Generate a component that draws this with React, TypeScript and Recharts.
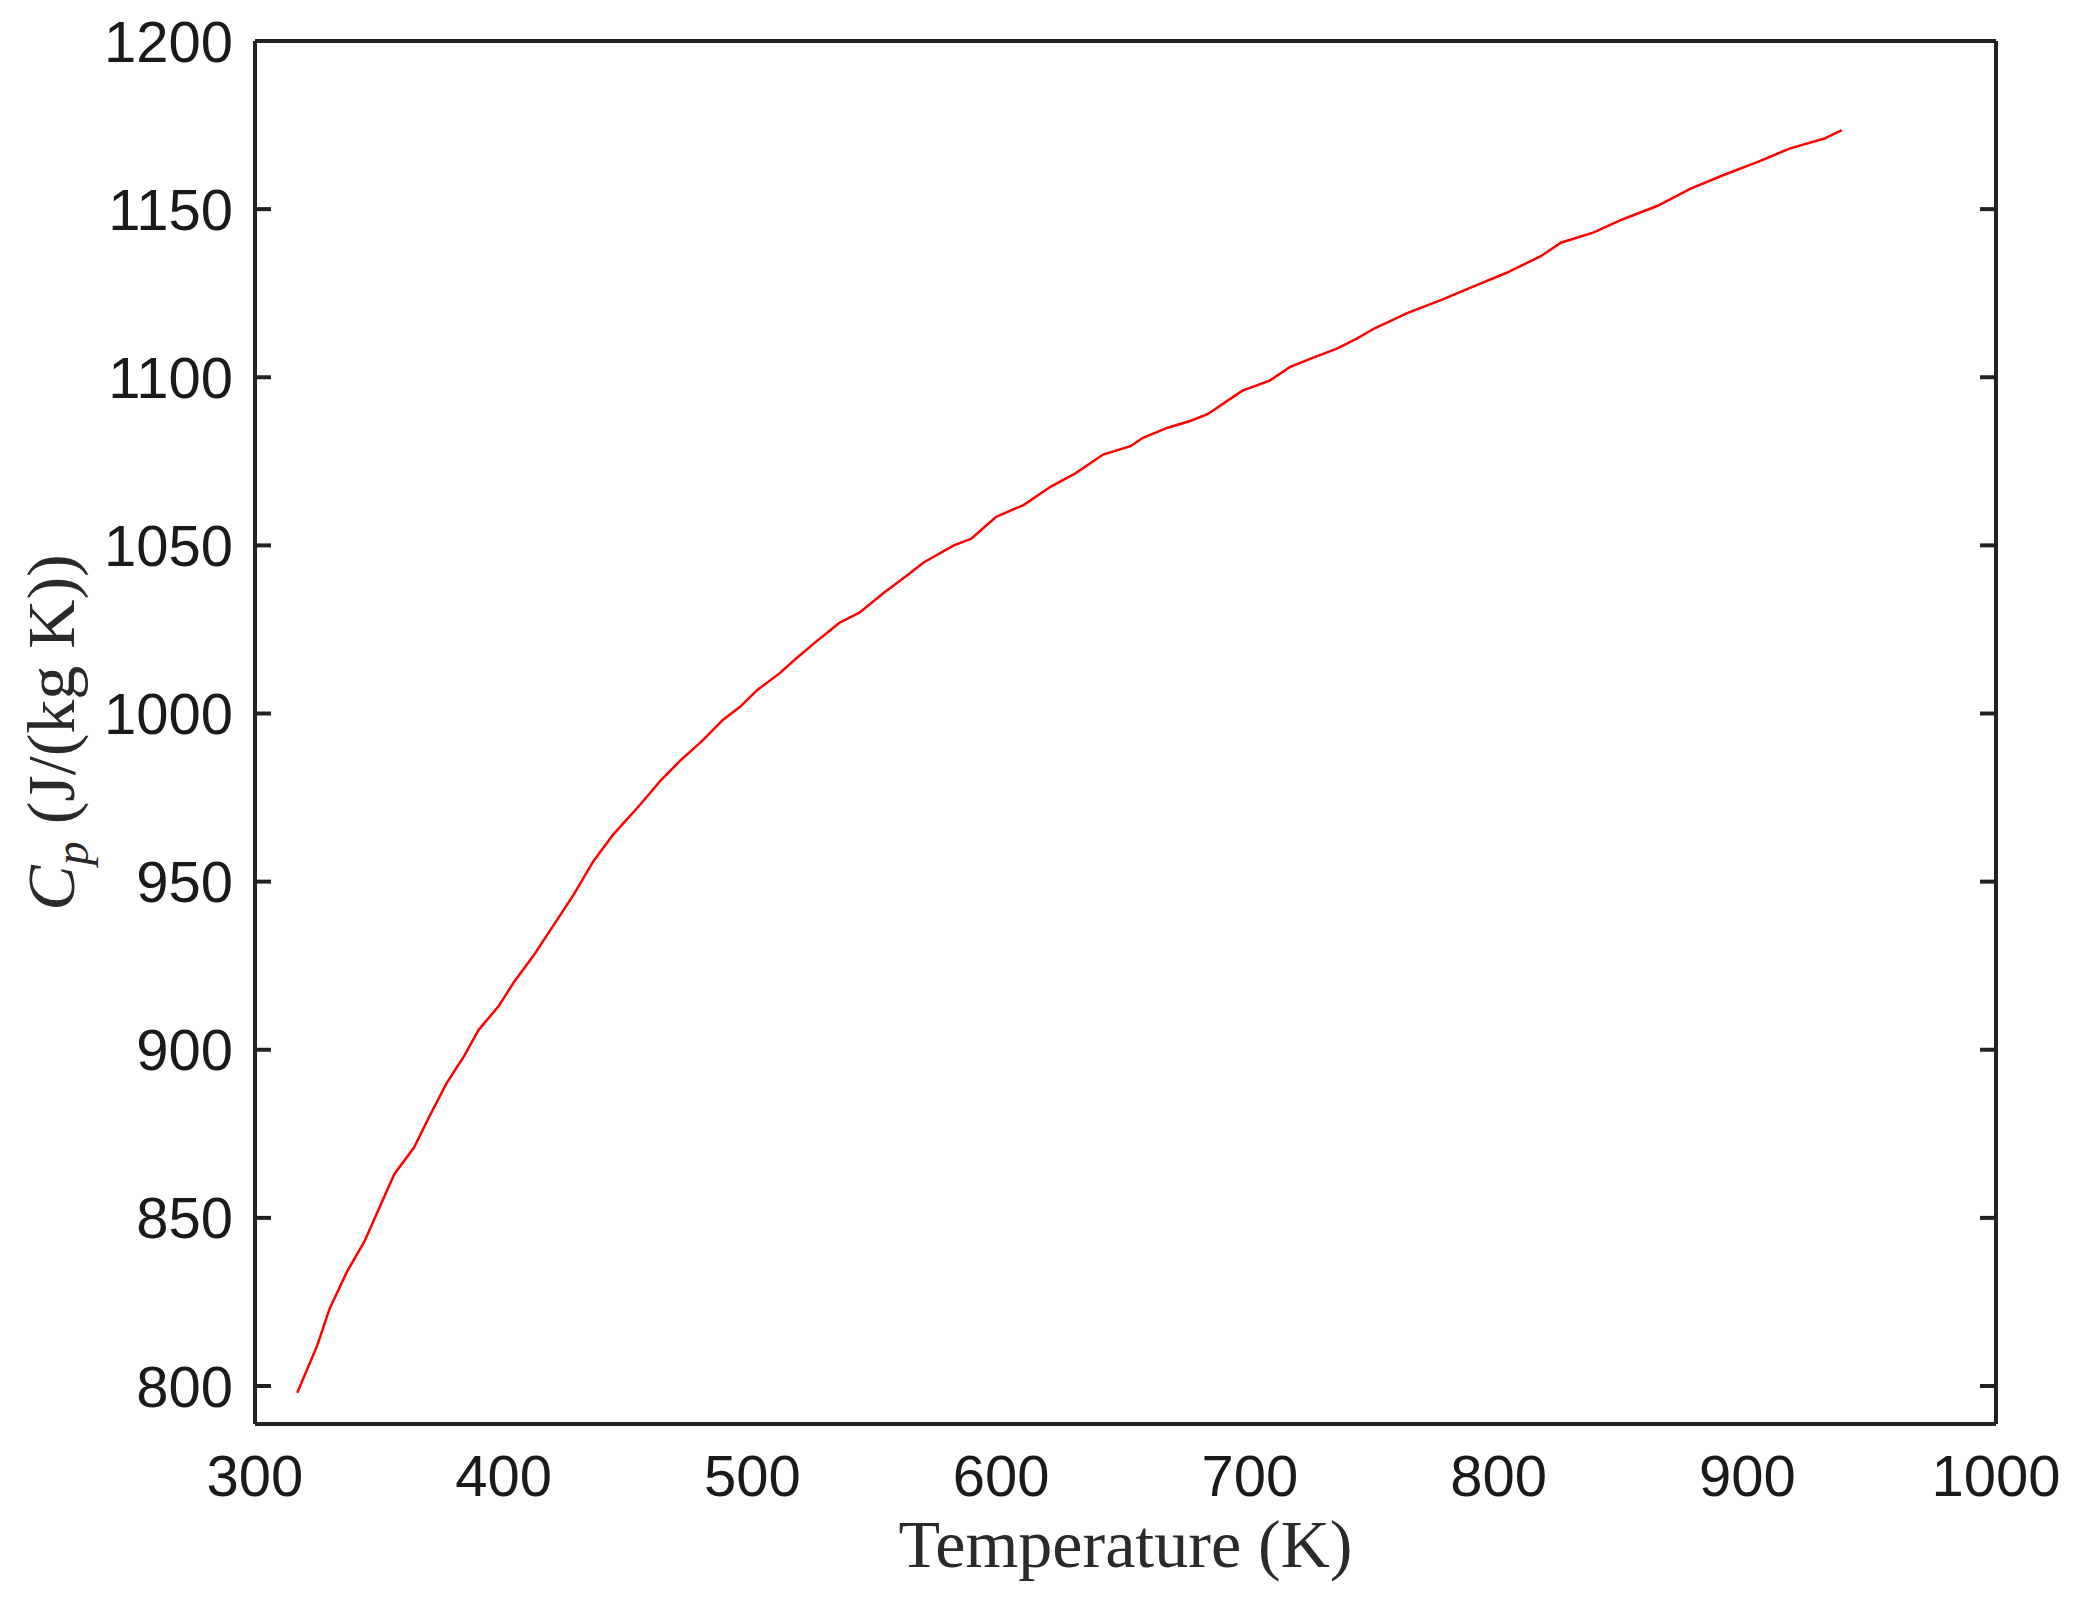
import { LineChart, Line, XAxis, YAxis } from 'recharts'

// Temperature (K) and specific heat Cp (J/(kg K))
const temps = [
    317, 325, 330, 337, 344, 350, 356, 364, 370, 377, 384, 390, 398, 404, 412, 420,
    428, 436, 444, 455, 463, 471, 480, 488, 495, 502, 511, 517, 525, 535, 543, 553,
    562, 569, 581, 588, 598, 609, 620, 630, 641, 652, 657, 667, 676, 683, 689, 697,
    708, 716, 726, 735, 743, 750, 763, 777, 790, 803, 817, 825, 838, 850, 864, 877,
    890, 904, 917, 931, 938,
]
const cp = [
    798, 812, 823, 834, 843, 853, 863, 871, 880, 890, 898, 906, 913, 920, 928, 937,
    946, 956, 964, 973, 980, 986, 992, 998, 1002, 1007, 1012, 1016, 1021, 1027, 1030, 1036,
    1041, 1045, 1050, 1052, 1058.5, 1062, 1067.5, 1071.5, 1077, 1079.5, 1082, 1085, 1087, 1089, 1092, 1096,
    1099, 1103, 1106, 1108.5, 1111.5, 1114.5, 1119, 1123, 1127, 1131, 1136, 1140, 1143, 1147, 1151, 1156,
    1160, 1164, 1168, 1171, 1173.5,
]

const xTicks = [300, 400, 500, 600, 700, 800, 900, 1000]
const yTicks = [800, 850, 900, 950, 1000, 1050, 1100, 1150, 1200]
const xDomain: [number, number] = [300, 1000]
const yDomain: [number, number] = [788.7, 1200]

const frame = '#222222'
const tickFont = { fontFamily: '"Liberation Sans", Arial, sans-serif', fontSize: 58, fill: '#1a1a1a' }
const labelFont = '"Liberation Serif", "Times New Roman", serif'

const data = temps.map((t, i) => ({ t, cp: cp[i] }))

// empty tick label, keeps only the tick line
const NoLabel = () => <g />

function XLabel({ viewBox }: any) {
    const cx = viewBox.x + viewBox.width / 2
    return (
        <text x={cx} y={viewBox.y + 143} textAnchor="middle" fontFamily={labelFont} fontSize={68} fill="#2a2a2a">
            Temperature (K)
        </text>
    )
}

function YLabel({ viewBox }: any) {
    const cy = viewBox.y + viewBox.height / 2
    const x = 74
    return (
        <text
            x={x}
            y={cy}
            transform={`rotate(-90, ${x}, ${cy})`}
            textAnchor="middle"
            fontFamily={labelFont}
            fontSize={68}
            fill="#2a2a2a"
        >
            <tspan fontStyle="italic">C</tspan>
            <tspan fontStyle="italic" fontSize={48} dy={14}>p</tspan>
            <tspan dy={-14}> (J/(kg K))</tspan>
        </text>
    )
}

export default function App() {
    return (
        <div style={{ position: 'absolute', left: 0, top: 0, width: 2086, height: 1606, background: '#fff' }}>
            <LineChart width={2086} height={1606} data={data} margin={{ top: 41, right: 90, left: 0, bottom: 0 }}>
                {/* outer axes with labels */}
                <XAxis
                    xAxisId="b"
                    dataKey="t"
                    type="number"
                    domain={xDomain}
                    ticks={xTicks}
                    allowDataOverflow
                    height={182}
                    tickLine={false}
                    tickSize={0}
                    tickMargin={31}
                    axisLine={{ stroke: frame, strokeWidth: 4 }}
                    tick={tickFont}
                    label={<XLabel />}
                />
                <YAxis
                    yAxisId="l"
                    type="number"
                    domain={yDomain}
                    ticks={yTicks}
                    allowDataOverflow
                    width={255}
                    tickLine={false}
                    tickSize={0}
                    tickMargin={22}
                    axisLine={{ stroke: frame, strokeWidth: 4 }}
                    tick={tickFont}
                    label={<YLabel />}
                />
                {/* inward tick marks on all four sides */}
                <XAxis
                    xAxisId="bi"
                    type="number"
                    orientation="bottom"
                    mirror
                    domain={xDomain}
                    ticks={xTicks}
                    allowDataOverflow
                    tick={NoLabel}
                    tickSize={16}
                    axisLine={false}
                    tickLine={{ stroke: frame, strokeWidth: 4 }}
                />
                <XAxis
                    xAxisId="t"
                    type="number"
                    orientation="top"
                    mirror
                    domain={xDomain}
                    ticks={xTicks}
                    allowDataOverflow
                    tick={NoLabel}
                    tickSize={16}
                    axisLine={{ stroke: frame, strokeWidth: 4 }}
                    tickLine={{ stroke: frame, strokeWidth: 4 }}
                />
                <YAxis
                    yAxisId="li"
                    type="number"
                    orientation="left"
                    mirror
                    domain={yDomain}
                    ticks={yTicks}
                    allowDataOverflow
                    tick={NoLabel}
                    tickSize={16}
                    axisLine={false}
                    tickLine={{ stroke: frame, strokeWidth: 4 }}
                />
                <YAxis
                    yAxisId="r"
                    type="number"
                    orientation="right"
                    mirror
                    domain={yDomain}
                    ticks={yTicks}
                    allowDataOverflow
                    tick={NoLabel}
                    tickSize={16}
                    axisLine={{ stroke: frame, strokeWidth: 4 }}
                    tickLine={{ stroke: frame, strokeWidth: 4 }}
                />
                <Line
                    xAxisId="b"
                    yAxisId="l"
                    type="linear"
                    dataKey="cp"
                    stroke="#ff0000"
                    strokeWidth={2.5}
                    dot={false}
                    isAnimationActive={false}
                />
            </LineChart>
        </div>
    )
}
